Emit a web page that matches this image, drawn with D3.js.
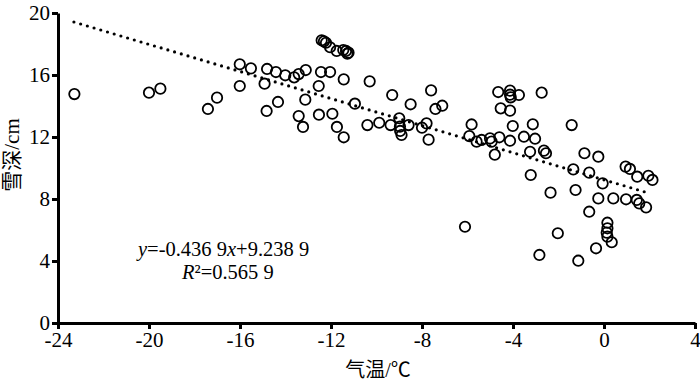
<!DOCTYPE html>
<html>
<head>
<meta charset="utf-8">
<script src="https://cdn.jsdelivr.net/npm/d3@7"></script>
<style>
  body { margin: 0; background: #fff; }
  svg { display: block; }
  text { font-family: "Liberation Serif", "Noto Sans CJK SC", serif; fill: #000; }
</style>
</head>
<body>
<div id="chart"></div>
<script>
"use strict";

// air temperature (℃) of each station
var temps = [
  -23.28, -20.00, -19.50, -17.41, -17.01, -16.01, -16.01, -15.52, -14.81, -14.42,
  -14.01, -13.62, -13.42, -13.11, -14.92, -12.54, -14.33, -14.83, -13.13, -13.42,
  -13.23, -12.44, -12.04, -11.44, -10.30, -12.53, -11.94, -11.74, -11.44, -10.95,
  -10.40, -9.88, -9.38, -9.31, -9.00, -8.97, -8.96, -8.90, -8.50, -8.59,
  -8.00, -7.80, -7.71, -7.60, -7.41, -7.11,
  -12.41, -12.31, -12.22, -12.04, -11.75, -11.46, -11.34, -11.23, -11.28,
  -5.82, -5.92, -5.60, -5.38, -5.01, -4.94, -4.60, -4.80, -4.65, -4.13,
  -4.13, -4.10, -3.74, -2.74, -4.54, -4.13, -4.01, -4.13, -3.52, -3.13,
  -3.03, -3.25, -2.64, -2.55, -3.22,
  -1.42, -0.86, -0.25, -1.35, -0.65, -0.06, -2.35, -1.25, 0.95, 1.14,
  1.46, 1.95, 2.13, -0.25, 0.41, 0.97, 1.44, 1.55, 1.85, -0.65,
  0.15, 0.15, 0.12, 0.15, 0.34, -0.35, -2.03, -2.84, -1.13, -6.11
];
// snow depth (cm), same order
var depths = [
  14.77, 14.86, 15.12, 13.81, 14.54, 16.69, 15.29, 16.43, 16.39, 16.19,
  15.98, 15.85, 16.06, 16.32, 15.44, 15.29, 14.26, 13.68, 14.41, 13.35,
  12.65, 16.19, 16.19, 15.72, 15.59, 13.44, 13.50, 12.65, 11.98, 14.15,
  12.77, 12.92, 12.77, 14.71, 13.21, 12.67, 12.39, 12.13, 14.11, 12.77,
  12.60, 12.88, 11.83, 15.01, 13.81, 14.02,
  18.24, 18.17, 18.08, 17.79, 17.55, 17.61, 17.55, 17.44, 17.37,
  12.81, 12.06, 11.70, 11.81, 11.91, 11.70, 11.98, 10.86, 14.90, 14.99,
  14.73, 14.56, 14.71, 14.86, 13.85, 13.70, 12.71, 11.76, 12.02, 12.82,
  11.89, 11.05, 11.12, 10.95, 9.55,
  12.77, 10.95, 10.73, 9.91, 9.70, 9.01, 8.41, 8.58, 10.09, 9.94,
  9.44, 9.50, 9.23, 8.04, 8.04, 7.98, 7.94, 7.72, 7.46, 7.18,
  6.47, 6.11, 5.83, 5.57, 5.21, 4.82, 5.79, 4.39, 4.02, 6.21
];

var xTicks = [-24, -20, -16, -12, -8, -4, 0, 4];
var yTicks = [0, 4, 8, 12, 16, 20];

// linear fit y = a*x + b
var slope = -0.4369;
var intercept = 9.2389;
var fitRange = [-23.3, 2.0];

var width = 700, height = 384;

var svg = d3.select("#chart").append("svg")
  .attr("width", width)
  .attr("height", height);

var x = d3.scaleLinear().domain([-24, 4]).range([58, 695]);
var y = d3.scaleLinear().domain([0, 20]).range([323, 13]);

var points = temps.map(function(t, i) { return { t: t, d: depths[i] }; });

// trend line (dotted)
var fitLine = d3.line()
  .x(function(v) { return x(v); })
  .y(function(v) { return y(slope * v + intercept); });

svg.append("path")
  .attr("d", fitLine(fitRange))
  .attr("fill", "none")
  .attr("stroke", "#000")
  .attr("stroke-width", 3.2)
  .attr("stroke-linecap", "round")
  .attr("stroke-dasharray", "0,7");

// points
svg.append("g").selectAll("circle")
  .data(points)
  .enter().append("circle")
  .attr("cx", function(p) { return x(p.t); })
  .attr("cy", function(p) { return y(p.d); })
  .attr("r", 5.2)
  .attr("fill", "none")
  .attr("stroke", "#000")
  .attr("stroke-width", 1.8);

// axes
var xAxis = svg.append("g")
  .attr("transform", "translate(0," + y(0) + ")")
  .call(d3.axisBottom(x).tickValues(xTicks).tickSize(6).tickSizeOuter(0)
    .tickFormat(function(d) { return String(d); }));

var yAxis = svg.append("g")
  .attr("transform", "translate(" + x(-24) + ",0)")
  .call(d3.axisLeft(y).tickValues(yTicks).tickSize(6).tickSizeOuter(0)
    .tickFormat(function(d) { return String(d); }));

[xAxis, yAxis].forEach(function(a) {
  a.select(".domain").attr("stroke-width", 3);
  a.selectAll(".tick line").attr("stroke-width", 3);
  a.selectAll(".tick text")
    .attr("font-size", 21)
    .attr("font-family", "Liberation Serif");
});
yAxis.selectAll(".tick text").attr("x", -8);

// axis titles
svg.append("text")
  .attr("x", 378)
  .attr("y", 377)
  .attr("text-anchor", "middle")
  .attr("font-size", 20)
  .text("气温/℃");

svg.append("text")
  .attr("transform", "translate(19,155) rotate(-90)")
  .attr("text-anchor", "middle")
  .attr("font-size", 21)
  .text("雪深/cm");

// equation
var eq = svg.append("text")
  .attr("x", 138)
  .attr("y", 256)
  .attr("font-size", 20.5);
eq.append("tspan").attr("font-style", "italic").text("y");
eq.append("tspan").text("=-0.436 9");
eq.append("tspan").attr("font-style", "italic").text("x");
eq.append("tspan").text("+9.238 9");

var r2 = svg.append("text")
  .attr("x", 182)
  .attr("y", 279)
  .attr("font-size", 20.5);
r2.append("tspan").attr("font-style", "italic").text("R");
r2.append("tspan").text("²=0.565 9");
</script>
</body>
</html>
